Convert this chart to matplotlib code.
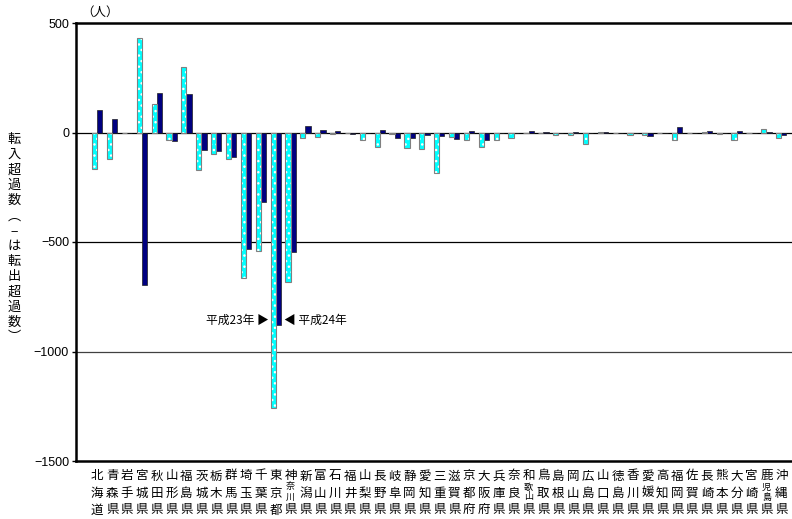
import numpy as np
import matplotlib.pyplot as plt
from matplotlib.transforms import blended_transform_factory

plt.rcParams['font.family'] = ['Noto Sans CJK JP', 'DejaVu Sans']
plt.rcParams['hatch.linewidth'] = 1.0

prefs = ['北海道', '青森県', '岩手県', '宮城県', '秋田県', '山形県', '福島県', '茨城県',
         '栃木県', '群馬県', '埼玉県', '千葉県', '東京都', '神奈川県', '新潟県', '富山県',
         '石川県', '福井県', '山梨県', '長野県', '岐阜県', '静岡県', '愛知県', '三重県',
         '滋賀県', '京都府', '大阪府', '兵庫県', '奈良県', '和歌山県', '鳥取県', '島根県',
         '岡山県', '広島県', '山口県', '徳島県', '香川県', '愛媛県', '高知県', '福岡県',
         '佐賀県', '長崎県', '熊本県', '大分県', '宮崎県', '鹿児島県', '沖縄県']

# 平成23年
h23 = [-165, -122, 0, 431, 129, -33, 297, -172, -96, -122, -664, -541, -1257, -681,
       -27, -21, -5, -3, -35, -67, -5, -72, -76, -184, -21, -33, -68, -33, -23, -4,
       -3, -12, -12, -53, 4, -2, -10, -10, -3, -36, -4, 3, -8, -36, -4, 15, -23]
# 平成24年
h24 = [102, 60, 0, -695, 179, -38, 175, -82, -86, -110, -532, -318, -881, -546,
       29, 12, 7, -5, -3, 12, -26, -26, -12, -17, -31, 8, -36, -3, -3, 5,
       2, -3, 4, -3, 2, -2, -3, -14, -3, 23, -3, 8, -3, 9, -3, 3, -12]

yticks = [500, 0, -500, -1000, -1500]

W, H = 792, 519
fig = plt.figure(figsize=(W / 100, H / 100), dpi=100)
ax = fig.add_axes([76 / W, 1 - 461 / H, 1 - 76 / W, (461 - 23) / H])

x = np.arange(len(prefs))
bw = 0.35
# light bars: cyan with white checker hatch and grey outline
ax.bar(x - bw / 2, h23, bw, color='#00ffff', edgecolor='white', hatch='...', linewidth=0, zorder=3)
ax.bar(x - bw / 2, h23, bw, fill=False, edgecolor='#808080', linewidth=0.8, zorder=4)
ax.bar(x + bw / 2, h24, bw, color='#000080', edgecolor='#202020', linewidth=0.5, zorder=3)

ax.set_xlim(-1.43, 46.72)
ax.set_ylim(-1500, 500)
ax.set_yticks(yticks)
ax.set_yticklabels(['500', '0', '−500', '−1000', '−1500'], family='Liberation Sans', fontsize=9)
ax.tick_params(axis='y', length=3, width=1, pad=2)
ax.set_xticks([])
for v, c in [(0, 'black'), (-500, 'black'), (-1000, '#404040')]:
    ax.axhline(v, color=c, linewidth=0.9, zorder=2)
for s in ['left', 'top', 'bottom']:
    ax.spines[s].set_linewidth(1.8)
ax.spines['right'].set_visible(False)

# prefecture names, stacked vertically under each category
tr = blended_transform_factory(ax.transData, fig.transFigure)
rows = [476, 493, 510]
for i, name in enumerate(prefs):
    if len(name) == 3:
        for ch, r in zip(name, rows):
            fig.text(i, 1 - r / H, ch, transform=tr, ha='center', va='center', fontsize=9)
    else:
        fig.text(i, 1 - rows[0] / H, name[0], transform=tr, ha='center', va='center', fontsize=9)
        fig.text(i, 1 - 487 / H, name[1], transform=tr, ha='center', va='center', fontsize=6.5)
        fig.text(i, 1 - 497 / H, name[2], transform=tr, ha='center', va='center', fontsize=6.5)
        fig.text(i, 1 - rows[2] / H, name[3], transform=tr, ha='center', va='center', fontsize=9)

# vertical y-axis title
ylab = '転入超過数︵−は転出超過数︶'
for k, ch in enumerate(ylab):
    fig.text(14 / W, 1 - (140 + k * 15.2) / H, ch, ha='center', va='center', fontsize=9.5)

fig.text(100 / W, 1 - 12 / H, '（人）', ha='center', va='center', fontsize=9)

ax.text(12 - 0.5, -857, '平成23年 ▶', ha='right', va='center', fontsize=8.5, zorder=5)
ax.text(12 + 0.55, -857, '◀ 平成24年', ha='left', va='center', fontsize=8.5, zorder=5)

fig.savefig('out.png', dpi=100)
